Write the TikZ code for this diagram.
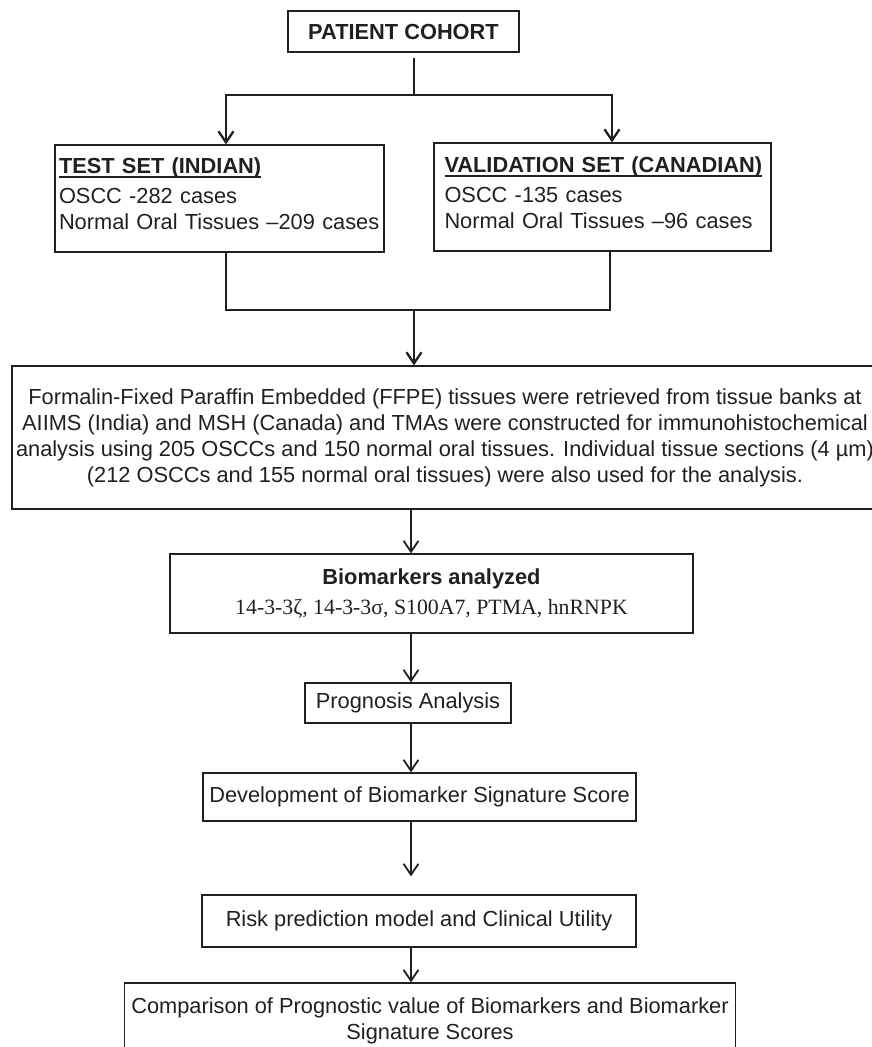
\documentclass[tikz,border=0pt]{standalone}
\usepackage{fontspec}
\setsansfont{Liberation Sans}
\newfontfamily\serifnames{Liberation Serif}
\usetikzlibrary{arrows.meta}
\definecolor{ink}{HTML}{231F20}
\newcommand{\undertitle}[1]{\setbox0=\hbox{#1}\rlap{\rule[-5.2pt]{\wd0}{1.8pt}}\box0}

\begin{document}
\begin{tikzpicture}[x=1pt, y=1pt, >={Straight Barb[length=11pt,width=15pt]},
  block/.style={draw=ink, text=ink, line width=1.3pt, inner sep=0pt, font=\sffamily\fontsize{21.8}{26}\selectfont},
  wire/.style={draw=ink, line width=2.3pt},
  link/.style={draw=ink, line width=1.8pt, ->}]
\useasboundingbox (0,0) rectangle (872,-1047);

\node[block, minimum width=231pt, minimum height=41pt, font=\sffamily\bfseries\fontsize{21.8}{26}\selectfont] (cohort) at (403.5,-31.5) {PATIENT COHORT};
\node[block, node distance=167pt, below of=cohort, xshift=-184pt, text width=321pt, inner xsep=4pt, align=left, text height=28pt, text depth=79pt] (test)
  {\textbf{\undertitle{TEST SET (INDIAN)}}\\[4pt] OSCC -282 cases\\ Normal Oral Tissues –209 cases};
\node[block, node distance=165.5pt, below of=cohort, xshift=199pt, text width=316pt, inner xsep=10.5pt, align=left, text height=29pt, text depth=79pt] (valid)
  {\textbf{\undertitle{VALIDATION SET (CANADIAN)}}\\[4pt] OSCC -135 cases\\ Normal Oral Tissues –96 cases};
\node[block, node distance=406pt, below of=cohort, xshift=41.5pt, minimum width=866pt, minimum height=143pt, align=center] (ffpe)
  {Formalin-Fixed Paraffin Embedded (FFPE) tissues were retrieved from tissue banks at\\
   AIIMS (India) and MSH (Canada) and TMAs were constructed for immunohistochemical\\
   analysis using 205 OSCCs and 150 normal oral tissues. Individual tissue sections (4 µm)\\
   (212 OSCCs and 155 normal oral tissues) were also used for the analysis.};
\node[block, node distance=156pt, below of=ffpe, xshift=-13.5pt, minimum width=523pt, minimum height=79pt, align=center] (bio)
  {\textbf{Biomarkers analyzed}\\[4pt] {\serifnames 14-3-3ζ, 14-3-3σ, S100A7, PTMA, hnRNPK}};
\node[block, node distance=109.5pt, below of=bio, xshift=-23.5pt, minimum width=206pt, minimum height=40pt] (prog) {Prognosis Analysis};
\node[block, node distance=94pt, below of=prog, xshift=11.5pt, minimum width=433pt, minimum height=48pt] (dev) {Development of Biomarker Signature Score};
\node[block, node distance=124pt, below of=dev, xshift=-0.5pt, minimum width=434pt, minimum height=52pt] (risk) {Risk prediction model and Clinical Utility};
\node[block, node distance=99.5pt, below of=risk, xshift=11pt, minimum width=611pt, minimum height=75pt, align=center] (comp)
  {Comparison of Prognostic value of Biomarkers and Biomarker\\ Signature Scores};

% split to the two cohorts
\draw[wire, shorten <=5pt] ([xshift=10.5pt]cohort.south) -- ++(0,-42) coordinate (split);
\draw[wire, ->] (split) -| ([xshift=6.5pt]test.north);
\draw[wire, ->] (split) -| ([xshift=9.5pt]valid.north);

% merge into tissue box
\coordinate (tb) at ([xshift=6.5pt]test.south);
\coordinate (vb) at ([xshift=7.5pt]valid.south);
\draw[wire] (tb) -- ++(0,-57) coordinate (merge) -| (vb);
\draw[wire, ->] (merge -| split) -- (ffpe.north -| split);

% main chain
\coordinate (axis) at ([xshift=-34pt]ffpe.south);
\draw[link] (ffpe.south -| axis) -- (bio.north -| axis);
\draw[link] (bio.south -| axis) -- (prog.north -| axis);
\draw[link] (prog.south -| axis) -- (dev.north -| axis);
\draw[link, shorten >=18pt] (dev.south -| axis) -- (risk.north -| axis);
\draw[link] (risk.south -| axis) -- (comp.north -| axis);
\end{tikzpicture}
\end{document}
